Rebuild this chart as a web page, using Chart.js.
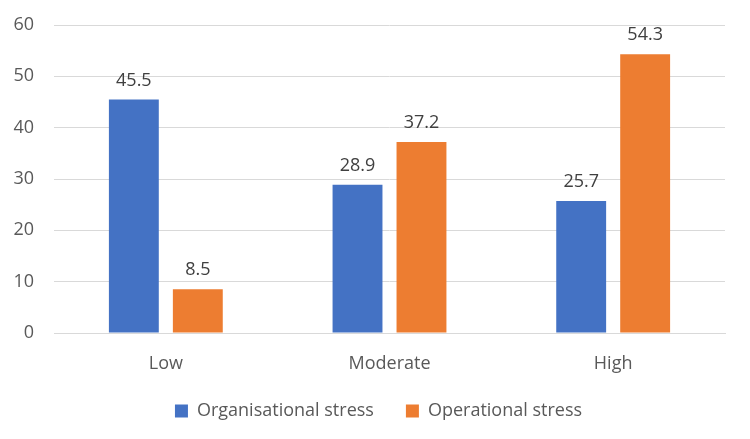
<!DOCTYPE html>
<html>
<head>
<meta charset="utf-8">
<script src="https://cdn.jsdelivr.net/npm/chart.js@4"></script>
<style>
  html, body { margin: 0; padding: 0; background: #fff; }
  #wrap { width: 750px; height: 439px; }
</style>
</head>
<body>
<div id="wrap"><canvas id="stressChart"></canvas></div>
<script>
const categories = ['Low', 'Moderate', 'High'];
const organisational = [45.5, 28.9, 25.7];
const operational = [8.5, 37.2, 54.3];
const yTicks = [0, 10, 20, 30, 40, 50, 60];

const FONT = "'Open Sans', 'Liberation Sans', sans-serif";
const TEXT = '#595959';

// draw the value above each bar
const valueLabels = {
  id: 'valueLabels',
  afterDatasetsDraw(chart) {
    const ctx = chart.ctx;
    ctx.save();
    ctx.font = `18px ${FONT}`;
    ctx.fillStyle = '#404040';
    ctx.textAlign = 'center';
    ctx.textBaseline = 'bottom';
    chart.data.datasets.forEach((ds, i) => {
      chart.getDatasetMeta(i).data.forEach((bar, j) => {
        ctx.fillText(ds.data[j].toFixed(1), bar.x, bar.y - 10);
      });
    });
    ctx.restore();
  },
};

// nudge the legend so it sits like the original
const legendShift = {
  id: 'legendShift',
  afterLayout(chart) {
    const lg = chart.legend;
    if (!lg) return;
    lg.left += 16;
    lg.right += 16;
    lg.top -= 5;
    lg.bottom -= 5;
  },
};

new Chart(document.getElementById('stressChart'), {
  type: 'bar',
  data: {
    labels: categories,
    datasets: [
      { label: 'Organisational stress', data: organisational, backgroundColor: '#4472C4' },
      { label: 'Operational stress', data: operational, backgroundColor: '#ED7D31' },
    ],
  },
  options: {
    responsive: true,
    maintainAspectRatio: false,
    animation: false,
    categoryPercentage: 0.572,
    barPercentage: 0.78,
    layout: { padding: { top: 25, right: 25, bottom: 4, left: 0 } },
    scales: {
      x: {
        afterFit(scale) { scale.height = 42; },
        grid: { display: false },
        border: { color: '#d9d9d9', width: 1 },
        ticks: { color: TEXT, font: { family: FONT, size: 18 }, padding: 12 },
      },
      y: {
        min: 0,
        max: 60,
        afterFit(scale) {
          scale.width = 54;
          scale.paddingTop = 0;
          scale.paddingBottom = 0;
        },
        afterBuildTicks(scale) { scale.ticks = yTicks.map((v) => ({ value: v })); },
        grid: { color: '#d9d9d9', drawTicks: false },
        border: { display: false },
        ticks: { color: TEXT, font: { family: FONT, size: 18 }, padding: 20 },
      },
    },
    plugins: {
      legend: {
        position: 'bottom',
        labels: {
          color: TEXT,
          font: { family: FONT, size: 18 },
          boxWidth: 13,
          boxHeight: 13,
          padding: 32,
        },
      },
      tooltip: { enabled: false },
    },
  },
  plugins: [valueLabels, legendShift],
});
</script>
</body>
</html>
